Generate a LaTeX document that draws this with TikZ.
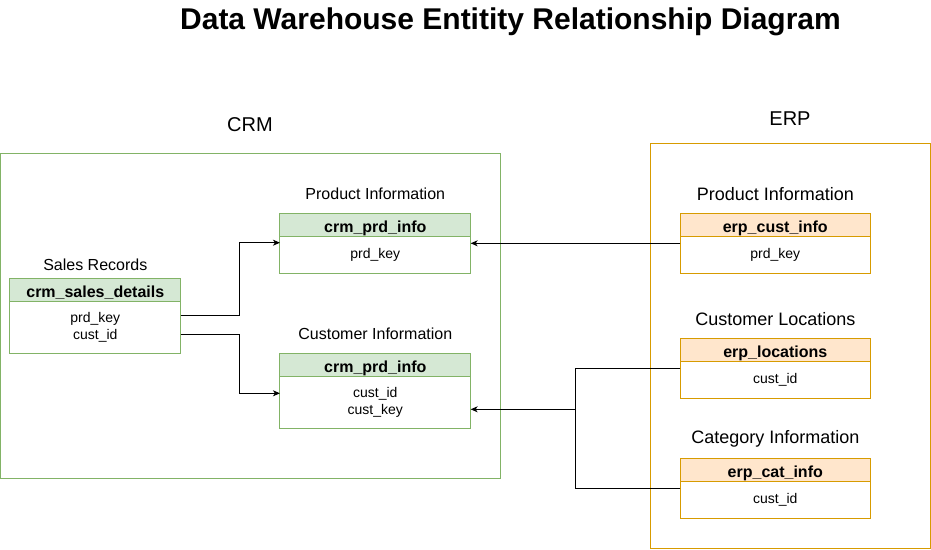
\documentclass[tikz,border=0pt]{standalone}
\usepackage{fontspec}
\setmainfont{Liberation Sans}
\usetikzlibrary{arrows.meta,positioning}
\definecolor{crmline}{HTML}{82B366}
\definecolor{crmfill}{HTML}{D5E8D4}
\definecolor{erpline}{HTML}{D79B00}
\definecolor{erpfill}{HTML}{FFE6CC}
\tikzset{
  tablehead/.style={draw, line width=1pt, outer sep=0pt, inner sep=0pt, minimum height=23.4pt,
    text height=15pt, text depth=1pt, font=\fontsize{16}{18}\selectfont\bfseries},
  tablebody/.style={draw, line width=1pt, outer sep=0pt, inner sep=0pt, fill=white, align=center,
    font=\fontsize{14}{16.5}\selectfont},
  crmhead/.style={tablehead, draw=crmline, fill=crmfill},
  crmbody/.style={tablebody, draw=crmline},
  erphead/.style={tablehead, draw=erpline, fill=erpfill, minimum width=190pt},
  erpbody/.style={tablebody, draw=erpline, minimum width=190pt, minimum height=36.6pt},
  caption/.style={font=\fontsize{16}{18}\selectfont},
  erpcaption/.style={font=\fontsize{18}{20}\selectfont},
  link/.style={draw, line width=1pt, -{Stealth[length=7pt,width=6pt,inset=2pt]}}
}
\begin{document}
\begin{tikzpicture}[x=1pt, y=-1pt]
        \useasboundingbox (0, 0) rectangle (931, 549);
        \node[font=\fontsize{30}{34}\selectfont\bfseries] (title) at (510.5, 22) {Data Warehouse Entitity Relationship Diagram};
        % source systems
        \node[font=\fontsize{20}{24}\selectfont] (crm) at (250, 125) {CRM};
        \node[font=\fontsize{20}{24}\selectfont] (erp) at (790, 119) {ERP};
        \draw[crmline, line width=1pt] (0.5, 153.3) rectangle (500.3, 478.3);
        \draw[erpline, line width=1pt] (650.5, 143.3) rectangle (930.3, 548.3);
        % CRM tables
        \node[crmhead, minimum width=170.7pt] (salesh) at (95.3, 290) {crm\_sales\_details};
        \node[crmbody, minimum width=170.7pt, minimum height=51.6pt, below=0pt of salesh] (salesb) {prd\_key\\cust\_id};
        \node[caption] (salesc) at (95.3, 265) {Sales Records};
        \node[crmhead, minimum width=190.7pt] (prdh) at (375.3, 225) {crm\_prd\_info};
        \node[crmbody, minimum width=190.7pt, minimum height=36.6pt, below=0pt of prdh] (prdb) {prd\_key};
        \node[caption] (prdc) at (375.3, 194) {Product Information};
        \node[crmhead, minimum width=190.7pt] (custh) at (375.3, 365) {crm\_prd\_info};
        \node[crmbody, minimum width=190.7pt, minimum height=51.6pt, below=0pt of custh] (custb) {cust\_id\\cust\_key};
        \node[caption] (custc) at (375.3, 334) {Customer Information};
        % ERP tables
        \node[erphead] (ech) at (775.3, 225) {erp\_cust\_info};
        \node[erpbody, below=0pt of ech] (ecb) {prd\_key};
        \node[erpcaption] (ecc) at (775.3, 194) {Product Information};
        \node[erphead] (loch) at (775.3, 350) {erp\_locations};
        \node[erpbody, below=0pt of loch] (locb) {cust\_id};
        \node[erpcaption] (locc) at (775.3, 319) {Customer Locations};
        \node[erphead] (cath) at (775.3, 470) {erp\_cat\_info};
        \node[erpbody, below=0pt of cath] (catb) {cust\_id};
        \node[erpcaption] (catc) at (775.3, 439) {Category Information};
        % relations
        \draw[link] ([yshift=11.8pt]salesb.east) -- ++(59.3, 0) |- ([yshift=-6pt]prdb.north west);
        \draw[link] ([yshift=-6.8pt]salesb.east) -- ++(59.3, 0) |- ([yshift=-16.6pt]custb.north west);
        \draw[link] ([yshift=-6.6pt]ecb.north west) -- ([yshift=-6.6pt]prdb.north east);
        \coordinate (join) at (575.3, 409.3);
        \draw[line width=1pt] ([yshift=-6.6pt]locb.north west) -| (join);
        \draw[line width=1pt] ([yshift=-6.6pt]catb.north west) -| (join);
        \draw[link] (join) -- (custb.east |- join);
\end{tikzpicture}
\end{document}
